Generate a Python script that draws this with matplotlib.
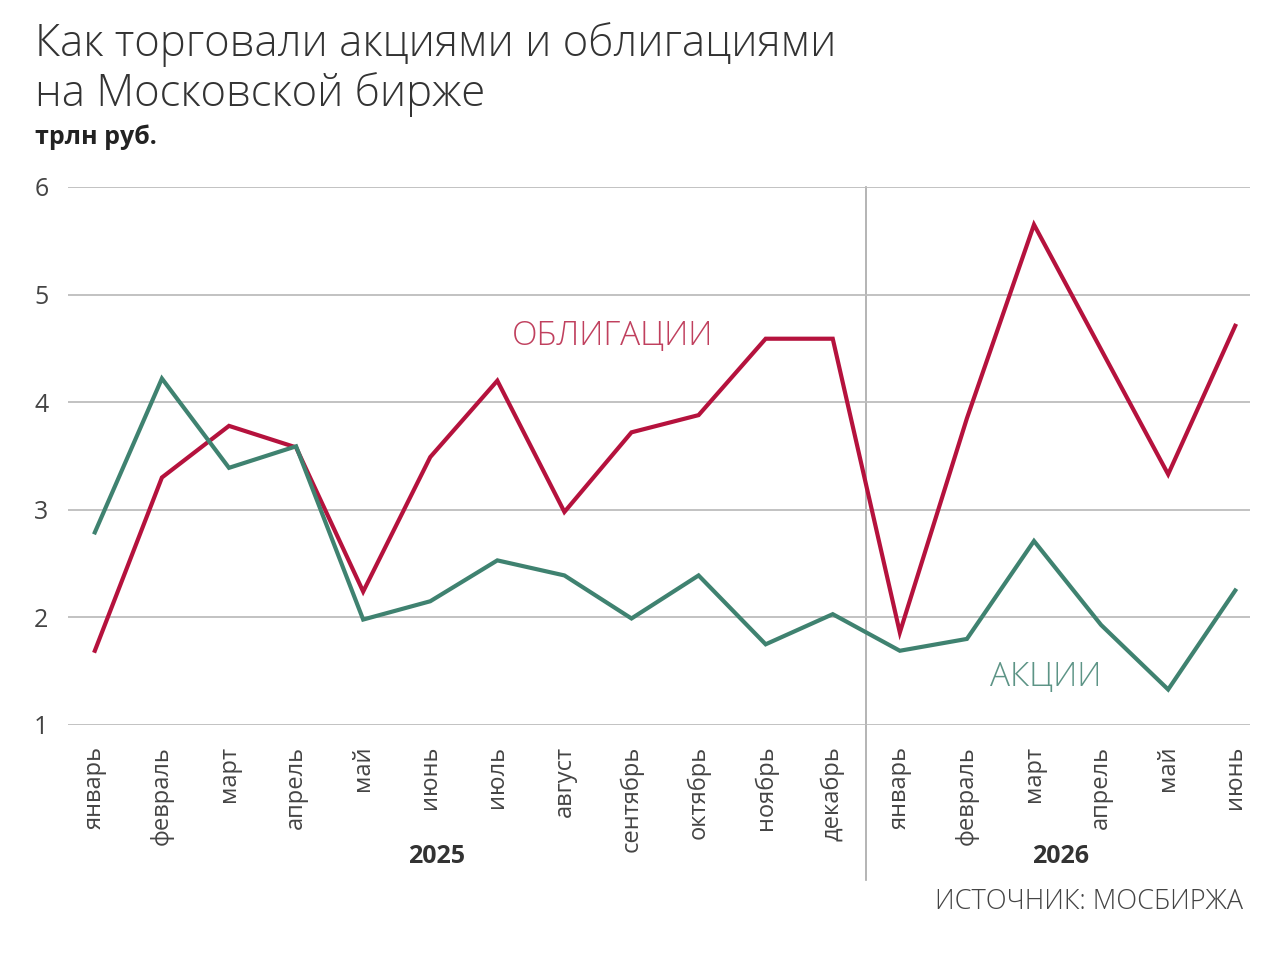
import matplotlib
matplotlib.use("Agg")
import matplotlib.pyplot as plt
from matplotlib.transforms import blended_transform_factory

months = ["январь", "февраль", "март", "апрель", "май", "июнь", "июль", "август",
          "сентябрь", "октябрь", "ноябрь", "декабрь",
          "январь", "февраль", "март", "апрель", "май", "июнь"]
years = ["2025", "2026"]
bonds = [1.69, 3.30, 3.78, 3.58, 2.24, 3.49, 4.20, 2.98, 3.72, 3.88, 4.59, 4.59,
         1.86, 3.85, 5.65, 4.49, 3.33, 4.71]
stocks = [2.79, 4.22, 3.39, 3.59, 1.98, 2.15, 2.53, 2.39, 1.99, 2.39, 1.75, 2.03,
          1.69, 1.80, 2.71, 1.93, 1.33, 2.25]
yticks = [1, 2, 3, 4, 5, 6]

RED = "#b5123d"
GREEN = "#3f8270"
FONT = ["Open Sans", "DejaVu Sans"]
plt.rcParams["font.family"] = FONT

fig = plt.figure(figsize=(12.8, 9.56), dpi=100)
ax = fig.add_axes([68/1280, 1-725/956, (1250-68)/1280, (725-187)/956])

x = list(range(len(months)))
ax.plot(x, bonds, color=RED, lw=3.0, solid_joinstyle="miter", zorder=3)
ax.plot(x, stocks, color=GREEN, lw=3.0, solid_joinstyle="miter", zorder=3)

ax.set_ylim(1, 6)
ax.set_xlim(-0.4, 17.22)
ax.set_yticks(yticks)
ax.set_yticklabels([str(v) for v in yticks])
ax.set_xticks(x)
ax.set_xticklabels(months, rotation=90, va="top", ha="center")
for s in ax.spines.values():
    s.set_visible(False)
ax.grid(axis="y", color="#bdbdbd", lw=1.3, zorder=0)
ax.tick_params(axis="both", length=0, colors="#444444", labelsize=17)
ax.tick_params(axis="x", pad=15)
ax.tick_params(axis="y", pad=14)
for lab in ax.get_yticklabels():
    lab.set_fontsize(18)

ax.axvline(11.5, ymin=-0.288, ymax=1.0, color="#a8a8a8", lw=1.2, clip_on=False, zorder=1)

tr = blended_transform_factory(ax.transData, ax.transAxes)
ax.text(5.1, -0.245, years[0], transform=tr, ha="center", va="center",
        fontsize=18, fontweight="bold", color="#333333")
ax.text(14.4, -0.245, years[1], transform=tr, ha="center", va="center",
        fontsize=18, fontweight="bold", color="#333333")

ax.text(6.22, 4.61, "ОБЛИГАЦИИ", color="#c0405e", fontsize=24, fontweight="light",
        ha="left", va="center")
ax.text(13.35, 1.44, "АКЦИИ", color="#5d9486", fontsize=24, fontweight="light",
        ha="left", va="center")

fig.text(35/1280, 1-45/956, "Как торговали акциями и облигациями", fontsize=31.5,
         fontweight="light", color="#333333", ha="left", va="center")
fig.text(35/1280, 1-95/956, "на Московской бирже", fontsize=31.5,
         fontweight="light", color="#333333", ha="left", va="center")
fig.text(35/1280, 1-137/956, "трлн руб.", fontsize=18, fontweight="bold",
         color="#222222", ha="left", va="center")
fig.text(1243/1280, 1-902/956, "ИСТОЧНИК: МОСБИРЖА", fontsize=19.5,
         fontweight="light", color="#444444", ha="right", va="center")

fig.savefig("out.png", dpi=100, facecolor="white")
